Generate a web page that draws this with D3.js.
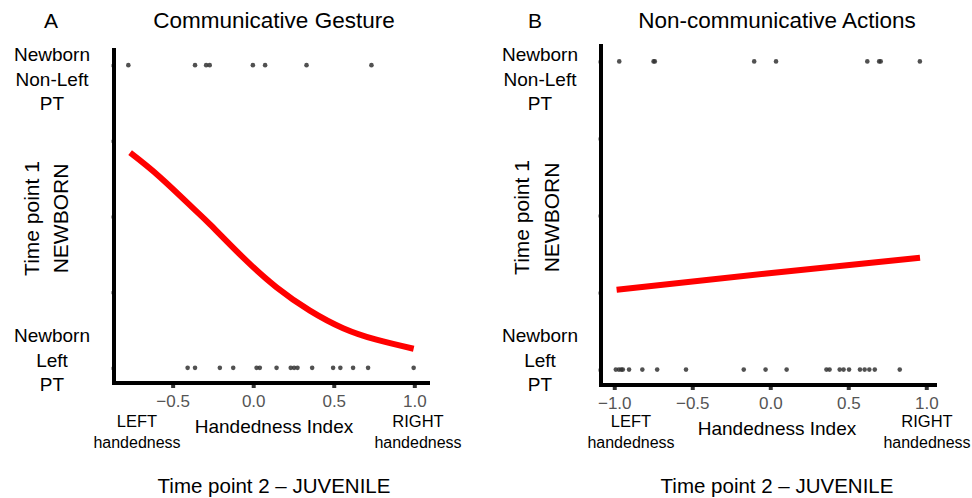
<!DOCTYPE html>
<html>
<head>
<meta charset="utf-8">
<script src="https://cdn.jsdelivr.net/npm/d3@7"></script>
<style>
  body { margin: 0; background: #fff; }
  text { font-family: "Liberation Sans", Arial, Helvetica, sans-serif; }
</style>
</head>
<body>
<div id="chart"></div>
<script>
// handedness index of each infant, split by newborn group (top = non-left PT, bottom = left PT)
const gestureTop = [-0.775, -0.361, -0.292, -0.270, -0.002, 0.074, 0.331, 0.734];
const gestureBottom = [-0.407, -0.361, -0.207, -0.124, 0.021, 0.041, 0.145, 0.233, 0.254, 0.275,
  0.366, 0.496, 0.541, 0.620, 0.713, 0.996];
const actionTop = [-0.968, -0.748, -0.740, -0.103, 0.037, 0.622, 0.698, 0.708, 0.959];
const actionBottom = [-0.990, -0.970, -0.955, -0.945, -0.905, -0.820, -0.725, -0.540, -0.170, -0.030,
  0.105, 0.360, 0.380, 0.445, 0.470, 0.505, 0.575, 0.605, 0.635, 0.670, 0.830];

// fitted curves
const gestureFitX = [-0.764, -0.578, -0.372, -0.268, -0.062, 0.145, 0.352, 0.558, 0.765, 0.996];
const gestureFitP = [0.711, 0.630, 0.527, 0.474, 0.364, 0.266, 0.189, 0.131, 0.093, 0.063];
const actionFitX = [-0.985, -0.023, 0.960];
const actionFitP = [0.259, 0.312, 0.363];

const gestureTicks = [-0.5, 0, 0.5, 1];
const actionTicks = [-1, -0.5, 0, 0.5, 1];
const yTicks = [0, 0.25, 0.5, 0.75, 1];

const w = 972;
const h = 498;

const panels = [
  {
    letter: 'A', title: 'Communicative Gesture',
    top: gestureTop, bottom: gestureBottom, fitX: gestureFitX, fitP: gestureFitP, ticks: gestureTicks,
    xDomain: [-0.864, 1.085], xRange: [114, 428], yRange: [383, 50],
    letterX: 51, titleX: 274, groupX: 52, timeX: 39, newbornX: 68,
    leftX: 137, rightX: 418, indexX: 274, indexY: 433
  },
  {
    letter: 'B', title: 'Non-communicative Actions',
    top: actionTop, bottom: actionBottom, fitX: actionFitX, fitP: actionFitP, ticks: actionTicks,
    xDomain: [-1.085, 1.056], xRange: [601, 935], yRange: [385, 46],
    letterX: 535, titleX: 777, groupX: 540, timeX: 529, newbornX: 559,
    leftX: 631, rightX: 927, indexX: 777, indexY: 435
  }
];

const svg = d3.select('#chart')
  .append('svg')
  .attr('width', w)
  .attr('height', h);

svg.append('rect')
  .attr('width', w)
  .attr('height', h)
  .attr('fill', '#fff');

panels.forEach((p) => {
  const xScale = d3.scaleLinear()
    .domain(p.xDomain)
    .range(p.xRange);

  const yScale = d3.scaleLinear()
    .domain([-0.05, 1.05])
    .range(p.yRange);

  const g = svg.append('g');

  // y ticks (faint, no labels)
  const yAxis = d3.axisLeft(yScale)
    .tickValues(yTicks)
    .tickSize(3)
    .tickFormat('');

  g.append('g')
    .attr('transform', `translate(${p.xRange[0]},0)`)
    .call(yAxis)
    .call((a) => a.select('.domain').remove())
    .selectAll('line')
    .attr('stroke', '#aaa')
    .attr('stroke-width', 3);

  // x ticks
  const xAxis = d3.axisBottom(xScale)
    .tickValues(p.ticks)
    .tickSize(5)
    .tickPadding(8)
    .tickFormat(d3.format('.1f'));

  const xg = g.append('g')
    .attr('transform', `translate(0,${p.yRange[0]})`)
    .call(xAxis);
  xg.select('.domain').remove();
  xg.selectAll('line')
    .attr('stroke', '#333')
    .attr('stroke-width', 4);
  xg.selectAll('text')
    .attr('fill', '#555')
    .style('font-size', '17px')
    .attr('y', 24)
    .attr('dy', 0);

  // axis lines
  g.append('path')
    .attr('d', `M${p.xRange[0]},${p.yRange[1]}V${p.yRange[0]}H${p.xRange[1]}`)
    .attr('fill', 'none')
    .attr('stroke', '#000')
    .attr('stroke-width', 4)
    .attr('stroke-linecap', 'square');

  // points
  const pts = p.top.map((d) => ({ x: d, y: 1 }))
    .concat(p.bottom.map((d) => ({ x: d, y: 0 })));

  g.selectAll('circle')
    .data(pts)
    .enter()
    .append('circle')
    .attr('cx', (d) => xScale(d.x))
    .attr('cy', (d) => yScale(d.y))
    .attr('r', 2.3)
    .attr('fill', '#333')
    .attr('fill-opacity', 0.85);

  // fitted line
  const line = d3.line()
    .x((d) => xScale(d[0]))
    .y((d) => yScale(d[1]))
    .curve(d3.curveNatural);

  g.append('path')
    .datum(p.fitX.map((d, i) => [d, p.fitP[i]]))
    .attr('d', line)
    .attr('fill', 'none')
    .attr('stroke', '#ff0000')
    .attr('stroke-width', 6);

  // titles
  g.append('text')
    .attr('x', p.letterX)
    .attr('y', 28)
    .attr('text-anchor', 'middle')
    .style('font-size', '21px')
    .text(p.letter);

  g.append('text')
    .attr('x', p.titleX)
    .attr('y', 28)
    .attr('text-anchor', 'middle')
    .style('font-size', '22.5px')
    .text(p.title);

  // group labels
  const groupLabel = (lines, y0) => {
    const t = g.append('text')
      .attr('text-anchor', 'middle')
      .style('font-size', '19px');
    lines.forEach((s, i) => {
      t.append('tspan')
        .attr('x', p.groupX)
        .attr('y', y0 + i * 24.5)
        .text(s);
    });
  };
  groupLabel(['Newborn', 'Non-Left', 'PT'], 61);
  groupLabel(['Newborn', 'Left', 'PT'], 342);

  // y title
  const yMid = (p.yRange[0] + p.yRange[1]) / 2 + 2;
  g.append('text')
    .attr('transform', `translate(${p.timeX},${yMid}) rotate(-90)`)
    .attr('text-anchor', 'middle')
    .style('font-size', '21px')
    .text('Time point 1');
  g.append('text')
    .attr('transform', `translate(${p.newbornX},${yMid}) rotate(-90)`)
    .attr('text-anchor', 'middle')
    .style('font-size', '21px')
    .text('NEWBORN');

  // x annotations
  [[p.leftX, 'LEFT'], [p.rightX, 'RIGHT']].forEach(([x, s]) => {
    g.append('text')
      .attr('x', x)
      .attr('y', 427)
      .attr('text-anchor', 'middle')
      .style('font-size', '16.5px')
      .text(s);
    g.append('text')
      .attr('x', x)
      .attr('y', 448)
      .attr('text-anchor', 'middle')
      .style('font-size', '16px')
      .text('handedness');
  });

  g.append('text')
    .attr('x', p.indexX)
    .attr('y', p.indexY)
    .attr('text-anchor', 'middle')
    .style('font-size', '19px')
    .text('Handedness Index');

  g.append('text')
    .attr('x', p.indexX)
    .attr('y', 493)
    .attr('text-anchor', 'middle')
    .style('font-size', '20.5px')
    .text('Time point 2 \u2013 JUVENILE');
});
</script>
</body>
</html>
